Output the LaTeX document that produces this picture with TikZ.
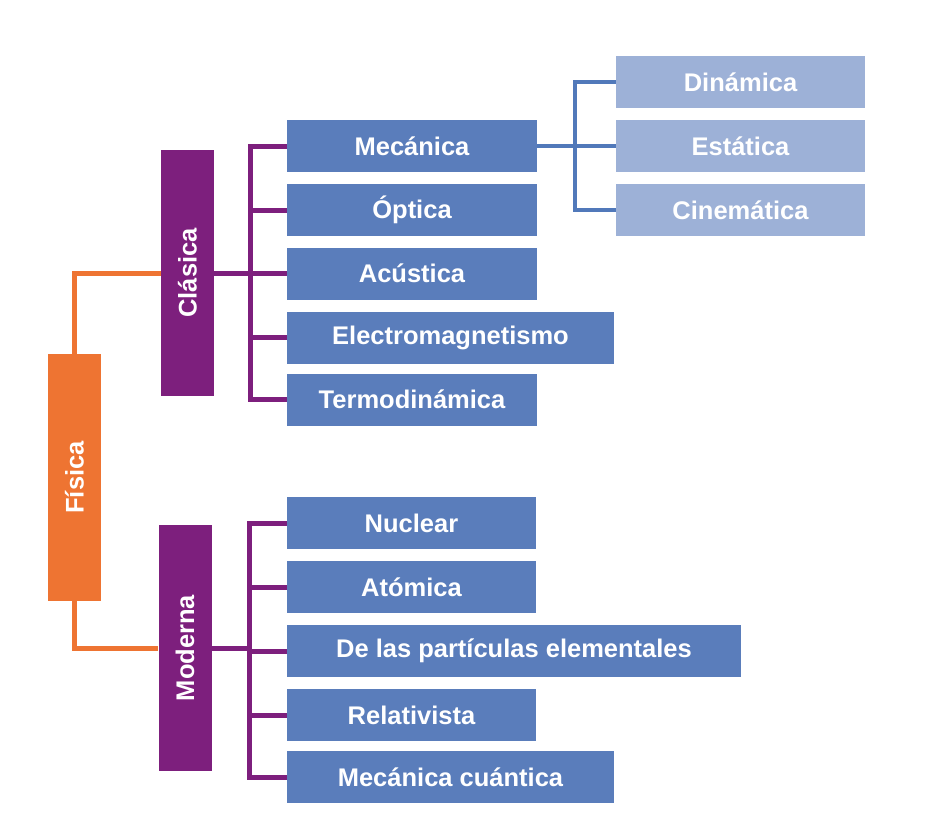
\documentclass[tikz,border=0pt]{standalone}
\usepackage{fontspec}
\setmainfont{Liberation Sans}
\usepackage{graphicx}
\definecolor{cOrange}{HTML}{EE7432}
\definecolor{cPurple}{HTML}{7D1F7D}
\definecolor{cBlue}{HTML}{5A7DBB}
\definecolor{cLight}{HTML}{9DB1D7}
\definecolor{cLine}{HTML}{5179BA}
\tikzset{
  box/.style={rectangle, inner sep=0pt, text=white,
    font=\fontsize{25.5}{30}\selectfont\bfseries},
  orangebox/.style={box, fill=cOrange, minimum width=53pt, minimum height=247pt},
  purplebox/.style={box, fill=cPurple, minimum width=53pt, minimum height=246pt},
  bluebox/.style={box, fill=cBlue, minimum height=52pt},
  lightbox/.style={box, fill=cLight, minimum width=249pt, minimum height=52pt},
  orangeline/.style={draw=cOrange, line width=5pt},
  purpleline/.style={draw=cPurple, line width=5pt},
  blueline/.style={draw=cLine, line width=4pt},
}
\begin{document}
\begin{tikzpicture}[x=1pt,y=-1pt]
\useasboundingbox (0,0) rectangle (933,832);

% main boxes
\node[orangebox] (fis) at (74.5,477.5) {\rotatebox{90}{Física}};
\node[purplebox] (cla) at (187.5,273) {\rotatebox{90}{Clásica}};
\node[purplebox] (mod) at (185,648) {\rotatebox{90}{Moderna}};

% classical branches
\node[bluebox, minimum width=250pt] (mec) at (412,146) {Mecánica};
\node[bluebox, minimum width=250pt] (opt) at (412,210) {Óptica};
\node[bluebox, minimum width=250pt] (acu) at (412,273.5) {Acústica};
\node[bluebox, minimum width=327pt] (ele) at (450.5,337.5) {Electromagnetismo};
\node[bluebox, minimum width=250pt] (ter) at (412,399.5) {Termodinámica};

% mechanics sub-branches
\node[lightbox] (din) at (740.5,82) {Dinámica};
\node[lightbox] (est) at (740.5,146) {Estática};
\node[lightbox] (cin) at (740.5,210) {Cinemática};

% modern branches
\node[bluebox, minimum width=249pt] (nuc) at (411.5,523) {Nuclear};
\node[bluebox, minimum width=249pt] (ato) at (411.5,587) {Atómica};
\node[bluebox, minimum width=454pt] (par) at (514,651) {De las partículas elementales};
\node[bluebox, minimum width=249pt] (rel) at (411.5,715) {Relativista};
\node[bluebox, minimum width=327pt] (cua) at (450.5,777) {Mecánica cuántica};

% junction coordinates
\coordinate (cj) at (250,273);
\coordinate (mj) at (249,648);
\coordinate (bj) at (575,146);

% orange connectors
\draw[orangeline] (fis.north) |- (cla.west);
\draw[orangeline] (fis.south) |- (mod.west);

% purple connectors (Clásica)
\draw[purpleline] (cla.east) -- (cj);
\draw[purpleline] (mec.west) -| (cj |- ter.west) -- (ter.west);
\draw[purpleline] (cj |- opt.west) -- (opt.west);
\draw[purpleline] (cj |- acu.west) -- (acu.west);
\draw[purpleline] (cj |- ele.west) -- (ele.west);

% purple connectors (Moderna)
\draw[purpleline] (mod.east) -- (mj);
\draw[purpleline] (nuc.west) -| (mj |- cua.west) -- (cua.west);
\draw[purpleline] (mj |- ato.west) -- (ato.west);
\draw[purpleline] (mj |- par.west) -- (par.west);
\draw[purpleline] (mj |- rel.west) -- (rel.west);

% blue connectors (Mecánica)
\draw[blueline] (mec.east) -- (est.west);
\draw[blueline] (din.west) -| (bj |- cin.west) -- (cin.west);
\end{tikzpicture}
\end{document}
